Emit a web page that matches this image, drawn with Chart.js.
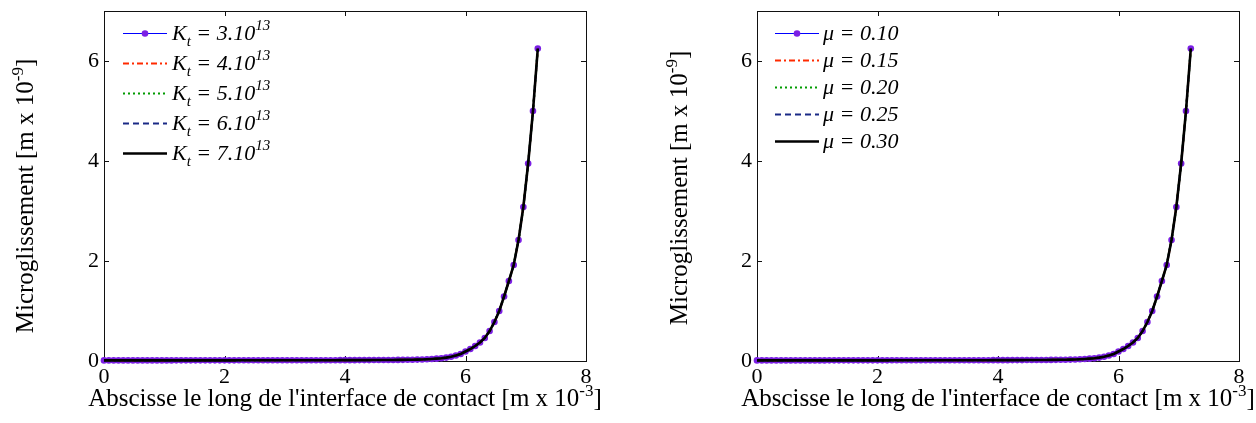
<!DOCTYPE html>
<html lang="fr">
<head>
<meta charset="UTF-8">
<title>Microglissement</title>
<script src="https://cdn.jsdelivr.net/npm/chart.js"></script>
<style>
  body { margin: 0; background: #fff; }
  .row { display: flex; width: 1256px; height: 423px; }
  canvas { display: block; }
</style>
</head>
<body>
<div class="row">
  <canvas id="chartKt" width="628" height="423"></canvas>
  <canvas id="chartMu" width="628" height="423"></canvas>
</div>
<script>
// ---- data ----
const xTicks = [0, 2, 4, 6, 8];
const yTicks = [0, 2, 4, 6];

// abscissa along the contact interface [m x 10^-3]
const contactX = [
  0.00, 0.08, 0.16, 0.24, 0.32, 0.40, 0.48, 0.56, 0.64, 0.72,
  0.80, 0.88, 0.96, 1.04, 1.12, 1.20, 1.28, 1.36, 1.44, 1.52,
  1.60, 1.68, 1.76, 1.84, 1.92, 2.00, 2.08, 2.16, 2.24, 2.32,
  2.40, 2.48, 2.56, 2.64, 2.72, 2.80, 2.88, 2.96, 3.04, 3.12,
  3.20, 3.28, 3.36, 3.44, 3.52, 3.60, 3.68, 3.76, 3.84, 3.92,
  4.00, 4.08, 4.16, 4.24, 4.32, 4.40, 4.48, 4.56, 4.64, 4.72,
  4.80, 4.88, 4.96, 5.04, 5.12, 5.20, 5.28, 5.36, 5.44, 5.52,
  5.60, 5.68, 5.76, 5.84, 5.92, 6.00, 6.08, 6.16, 6.24, 6.32,
  6.40, 6.48, 6.56, 6.64, 6.72, 6.80, 6.88, 6.96, 7.04, 7.12,
  7.20
];

// microslip [m x 10^-9] - all five curves overlap in both panels
const slip = [
  0.012, 0.012, 0.012, 0.012, 0.012, 0.012, 0.012, 0.012, 0.012, 0.012,
  0.012, 0.012, 0.012, 0.012, 0.012, 0.013, 0.013, 0.013, 0.013, 0.013,
  0.013, 0.013, 0.013, 0.013, 0.013, 0.013, 0.013, 0.013, 0.014, 0.014,
  0.014, 0.014, 0.014, 0.014, 0.014, 0.014, 0.014, 0.015, 0.015, 0.015,
  0.015, 0.015, 0.015, 0.015, 0.016, 0.016, 0.016, 0.016, 0.016, 0.017,
  0.017, 0.017, 0.017, 0.018, 0.018, 0.018, 0.019, 0.019, 0.020, 0.020,
  0.021, 0.022, 0.023, 0.024, 0.026, 0.028, 0.031, 0.035, 0.040, 0.047,
  0.056, 0.068, 0.085, 0.110, 0.140, 0.190, 0.240, 0.300, 0.370, 0.460,
  0.600, 0.780, 1.000, 1.290, 1.600, 1.920, 2.420, 3.080, 3.950, 5.000,
  6.250
];

const ktValues = ['3.10', '4.10', '5.10', '6.10', '7.10'];
const ktExponent = '13';
const muValues = ['0.10', '0.15', '0.20', '0.25', '0.30'];

// ---- styles ----
const FONT = '"Liberation Serif", "Times New Roman", serif';
const seriesStyles = [
  { color: '#0000ff', dash: [], width: 1, marker: true },
  { color: '#ff2a00', dash: [6, 3, 2, 3], width: 2 },
  { color: '#009a00', dash: [2, 3], width: 2.2 },
  { color: '#1a2a86', dash: [6, 4], width: 2 },
  { color: '#000000', dash: [], width: 2.6 }
];
const markerColor = '#7b1fe4';

function buildDatasets() {
  return seriesStyles.map((s, i) => ({
    data: contactX.map((x, j) => ({ x: x, y: slip[j] })),
    borderColor: s.color,
    borderWidth: s.width,
    borderDash: s.dash,
    pointRadius: s.marker ? 3.3 : 0,
    pointBackgroundColor: markerColor,
    pointBorderWidth: 0,
    tension: 0,
    order: seriesStyles.length - 1 - i,
    clip: 6
  }));
}

// draw a run of text pieces: [text, size, dy, italic]
function drawRich(ctx, parts, x, y, align) {
  let total = 0;
  const widths = parts.map(p => {
    ctx.font = (p[3] ? 'italic ' : '') + p[1] + 'px ' + FONT;
    const w = ctx.measureText(p[0]).width;
    total += w;
    return w;
  });
  if (align === 'center') x -= total / 2;
  parts.forEach((p, i) => {
    ctx.font = (p[3] ? 'italic ' : '') + p[1] + 'px ' + FONT;
    ctx.fillText(p[0], x, y + p[2]);
    x += widths[i];
  });
}

// box, inward ticks (MATLAB look)
const matlabAxes = {
  id: 'matlabAxes',
  beforeDatasetsDraw(chart) {
    const { ctx, chartArea: a, scales } = chart;
    ctx.save();
    ctx.strokeStyle = '#111';
    ctx.lineWidth = 1;
    ctx.strokeRect(Math.round(a.left) + 0.5, Math.round(a.top) + 0.5,
      Math.round(a.right - a.left), Math.round(a.bottom - a.top));
    ctx.beginPath();
    xTicks.forEach(v => {
      const px = Math.round(scales.x.getPixelForValue(v)) + 0.5;
      ctx.moveTo(px, a.bottom); ctx.lineTo(px, a.bottom - 5);
      ctx.moveTo(px, a.top); ctx.lineTo(px, a.top + 5);
    });
    yTicks.forEach(v => {
      const py = Math.round(scales.y.getPixelForValue(v)) + 0.5;
      ctx.moveTo(a.left, py); ctx.lineTo(a.left + 5, py);
      ctx.moveTo(a.right, py); ctx.lineTo(a.right - 5, py);
    });
    ctx.stroke();
    ctx.restore();
  },
  afterDraw(chart, args, opts) {
    const { ctx, chartArea: a } = chart;
    ctx.save();
    ctx.fillStyle = '#000';
    ctx.textBaseline = 'alphabetic';
    // x title
    drawRich(ctx, [
      ['Abscisse le long de l\'interface de contact [m x 10', 25, 0],
      ['-3', 17, -10],
      [']', 25, 0]
    ], (a.left + a.right) / 2, opts.xTitleY, 'center');
    // y title
    ctx.translate(opts.yTitleX, opts.yTitleCenter);
    ctx.rotate(-Math.PI / 2);
    drawRich(ctx, [
      ['Microglissement [m x 10', 25, 0],
      ['-9', 17, -10],
      [']', 25, 0]
    ], 0, 0, 'center');
    ctx.restore();

    // legend
    ctx.save();
    ctx.fillStyle = '#000';
    opts.legend.forEach((parts, i) => {
      const s = seriesStyles[i];
      const ly = a.top + opts.legendTop + i * opts.legendStep;
      const x0 = a.left + opts.lineStart, x1 = a.left + opts.lineEnd;
      ctx.beginPath();
      ctx.strokeStyle = s.color;
      ctx.lineWidth = s.width;
      ctx.setLineDash(s.dash);
      ctx.moveTo(x0, ly + 0.5);
      ctx.lineTo(x1, ly + 0.5);
      ctx.stroke();
      ctx.setLineDash([]);
      if (s.marker) {
        ctx.fillStyle = markerColor;
        ctx.beginPath();
        ctx.arc((x0 + x1) / 2, ly + 0.5, 3.3, 0, Math.PI * 2);
        ctx.fill();
        ctx.fillStyle = '#000';
      }
      drawRich(ctx, parts, a.left + opts.textStart, ly + 7, 'left');
    });
    ctx.restore();
  }
};

function makeChart(id, leftWidth, rightPad, extra) {
  const ctx = document.getElementById(id).getContext('2d');
  return new Chart(ctx, {
    type: 'line',
    data: { datasets: buildDatasets() },
    plugins: [matlabAxes],
    options: {
      responsive: false,
      animation: false,
      events: [],
      layout: { padding: { left: 0, right: rightPad, top: 11, bottom: 0 } },
      scales: {
        x: {
          type: 'linear', min: 0, max: 8,
          grid: { display: false, drawTicks: false },
          border: { display: false },
          afterBuildTicks: s => { s.ticks = xTicks.map(v => ({ value: v })); },
          afterFit: s => { s.height = 62; s.paddingLeft = 0; s.paddingRight = 0; },
          ticks: { color: '#000', padding: 3, maxRotation: 0, font: { family: FONT, size: 22 } }
        },
        y: {
          type: 'linear', min: 0, max: 7,
          grid: { display: false, drawTicks: false },
          border: { display: false },
          afterBuildTicks: s => { s.ticks = yTicks.map(v => ({ value: v })); },
          afterFit: s => { s.width = leftWidth; s.paddingTop = 0; s.paddingBottom = 0; },
          ticks: { color: '#000', padding: 5, font: { family: FONT, size: 22 } }
        }
      },
      plugins: {
        legend: { display: false },
        tooltip: { enabled: false },
        matlabAxes: extra
      }
    }
  });
}

makeChart('chartKt', 104, 42, {
  xTitleY: 406, yTitleX: 33, yTitleCenter: 196,
  legendTop: 22, legendStep: 30, lineStart: 19, lineEnd: 63, textStart: 68,
  legend: ktValues.map(v => [
    ['K', 22, 0, true], ['t', 15, 6, true],
    [' = ' + v, 22, 0, true], [ktExponent, 15, -10, true]
  ])
});

makeChart('chartMu', 129, 17, {
  xTitleY: 406, yTitleX: 59, yTitleCenter: 188,
  legendTop: 22, legendStep: 27, lineStart: 18, lineEnd: 62, textStart: 66,
  legend: muValues.map(v => [['\u03bc = ' + v, 22, 0, true]])
});
</script>
</body>
</html>
